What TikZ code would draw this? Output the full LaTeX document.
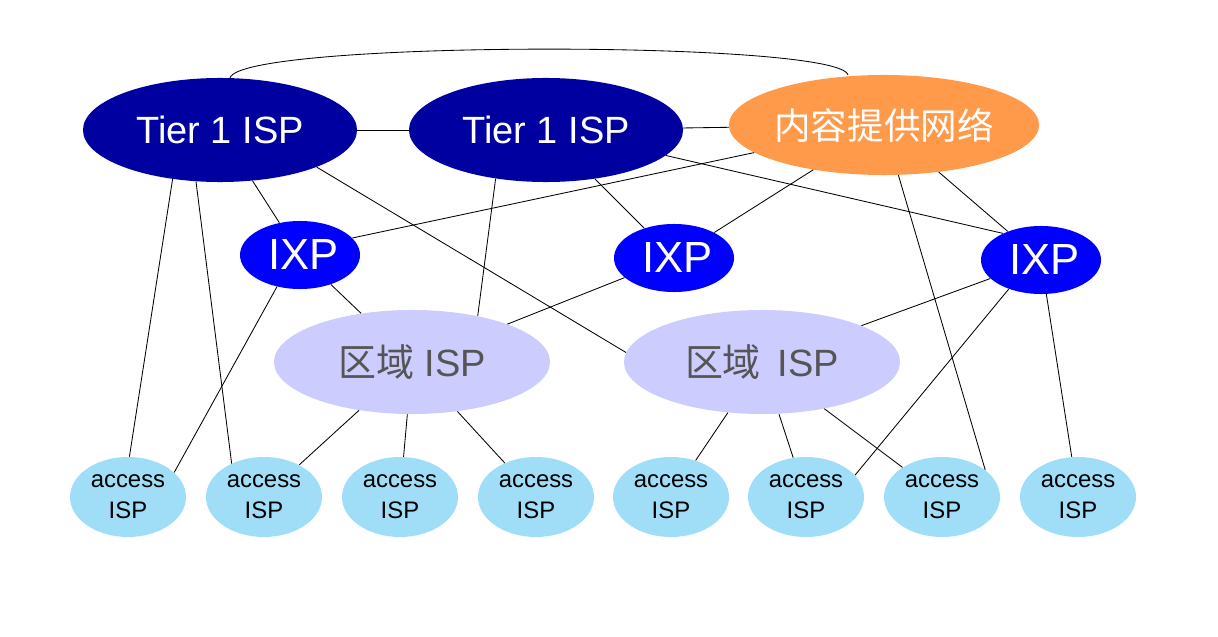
\documentclass[tikz,border=0pt]{standalone}
\usepackage{fontspec}
\setmainfont{Liberation Sans}
\newfontfamily\cjk{Noto Sans CJK SC}
\usetikzlibrary{shapes.geometric}
\definecolor{tone}{HTML}{0000A0}
\definecolor{ixpc}{HTML}{0000FF}
\definecolor{cdnc}{HTML}{FF9A4A}
\definecolor{regc}{HTML}{CCCCFF}
\definecolor{accc}{HTML}{A0DEF8}
\definecolor{regt}{HTML}{555555}
\begin{document}
\begin{tikzpicture}[x=0.025cm,y=-0.025cm,
  el/.style={ellipse,inner sep=0pt},
  tier/.style={el,fill=tone,text=white,minimum width=6.85cm,minimum height=2.6cm,font=\fontsize{27}{30}\selectfont},
  cdn/.style={el,fill=cdnc,text=white,minimum width=7cm,minimum height=2.5cm,font=\cjk\fontsize{26}{30}\selectfont},
  ixp/.style={el,fill=ixpc,text=white,minimum width=3cm,minimum height=1.7cm,font=\fontsize{31}{34}\selectfont},
  reg/.style={el,fill=regc,text=regt,minimum width=6.9cm,minimum height=2.6cm,font=\fontsize{27}{30}\selectfont},
  acc/.style={el,fill=accc,text=black,minimum width=2.9cm,minimum height=2cm,align=center,font=\fontsize{17}{22}\selectfont},
  ln/.style={draw=black,line width=0.6pt}]
\useasboundingbox (0,0) rectangle (1218,637);
\node[tier] (t1) at (220,130) {Tier 1 ISP};
\node[tier] (t2) at (546,130) {Tier 1 ISP};
\node[cdn] (cdn) at (884,125) {内容提供网络};
\node[ixp] (i1) at (300,255) {\,IXP};
\node[ixp] (i2) at (674,258) {\,IXP};
\node[ixp] (i3) at (1041,260) {\,IXP};
\node[reg] (r1) at (412,362) {{\cjk 区域} ISP};
\node[reg] (r2) at (762,362) {{\cjk 区域}\ \,ISP};
\foreach \i/\x in {1/128,2/264,3/400,4/536,5/671,6/806,7/942,8/1078}
  \node[acc] (a\i) at (\x,497) {access\\ISP};
\begin{scope}[on background layer/.try]
\end{scope}
\draw[ln] (230,78) .. controls (240,40) and (840,40) .. (848,75);
\draw[ln] (t1) -- (t2);
\draw[ln] (t2) -- (cdn);
\draw[ln] (t1) -- (i1);
\draw[ln] (t1.-21) -- (r2.176);
\draw[ln] (t1.226) -- (a1.88);
\draw[ln] (t1.245) -- (a2.134);
\draw[ln] (t2.224) -- (r1.35);
\draw[ln] (t2) -- (i2);
\draw[ln] (t2.-12) -- (i3.145);
\draw[ln] (cdn.192) -- (i1.18);
\draw[ln] (cdn) -- (i2);
\draw[ln] (cdn) -- (i3);
\draw[ln] (cdn.-74) -- (a7.32);
\draw[ln] (i1) -- (r1);
\draw[ln] (i1.234) -- (a1.28);
\draw[ln] (i2) -- (r1);
\draw[ln] (i3) -- (r2);
\draw[ln] (i3.222) -- (a6.24);
\draw[ln] (i3) -- (a8);
\draw[ln] (r1) -- (a2);
\draw[ln] (r1) -- (a3);
\draw[ln] (r1) -- (a4);
\draw[ln] (r2) -- (a5);
\draw[ln] (r2) -- (a6);
\draw[ln] (r2) -- (a7);
\end{tikzpicture}
\end{document}
